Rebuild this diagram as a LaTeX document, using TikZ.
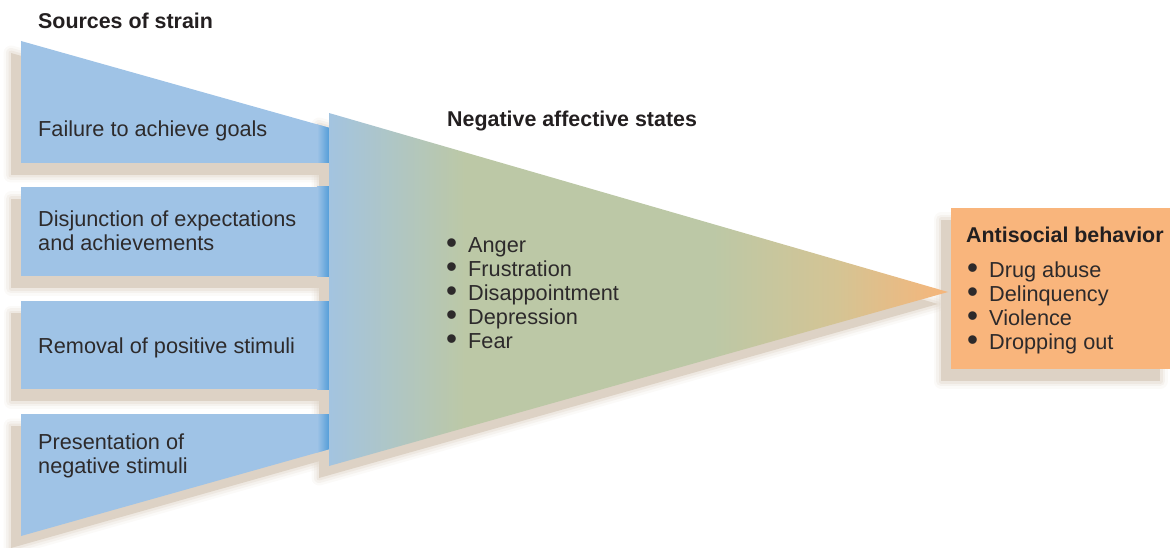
\documentclass[tikz,border=0pt]{standalone}
\usepackage{fontspec}
\setmainfont{Liberation Sans}
\definecolor{boxblue}{RGB}{159,195,230}
\definecolor{stripblue}{RGB}{78,155,216}
\definecolor{shadowc}{RGB}{221,210,197}
\definecolor{triblue}{RGB}{163,196,224}
\definecolor{trigreen}{RGB}{188,200,166}
\definecolor{tritan}{RGB}{212,196,148}
\definecolor{triorange}{RGB}{246,181,122}
\definecolor{boxorange}{RGB}{249,181,124}
\definecolor{txt}{RGB}{35,31,32}
\definecolor{txtlight}{RGB}{45,42,43}
\pgfdeclarehorizontalshading{trishade}{100bp}{color(0bp)=(triblue); color(25bp)=(triblue); color(36bp)=(trigreen); color(56bp)=(trigreen); color(66bp)=(tritan); color(75bp)=(triorange); color(100bp)=(triorange)}
\newcommand\softshadow[1]{%
  \begin{scope}[shift={(-10,12)}]
    \draw[shadowc, opacity=.12, line width=15pt, line join=round] #1 -- cycle;
    \draw[shadowc, opacity=.2, line width=10pt, line join=round] #1 -- cycle;
    \draw[shadowc, opacity=.3, line width=5pt, line join=round] #1 -- cycle;
    \fill[shadowc] #1 -- cycle;
  \end{scope}}
\newcommand\bul{\makebox[22pt][l]{\raisebox{-1pt}{\scalebox{1.45}{•}}}}
\tikzset{
  lbl/.style={font=\fontsize{21.7}{24}\selectfont, text=txtlight, inner sep=0pt, align=left, anchor=base west},
  ttl/.style={lbl, text=txt, font=\fontsize{21.4}{24}\selectfont\bfseries},
  bluebox/.style={fill=boxblue},
}
\begin{document}
\begin{tikzpicture}[x=1pt, y=-1pt]
\useasboundingbox (0,0) rectangle (1170,548);
% shadows
\softshadow{(21,41) -- (330,128) -- (330,163) -- (21,163)}
\softshadow{(21,187) -- (330,187) -- (330,276) -- (21,276)}
\softshadow{(21,301) -- (330,301) -- (330,389) -- (21,389)}
\softshadow{(21,414) -- (330,414) -- (330,449) -- (21,536)}
\softshadow{(329,113) -- (948,292) -- (329,466)}
\softshadow{(951,208) -- (1170,208) -- (1170,369) -- (951,369)}
% blue boxes with darker right strip
\foreach \p in {{(21,41) -- (330,128) -- (330,163) -- (21,163)},
                {(21,187) -- (330,187) -- (330,276) -- (21,276)},
                {(21,301) -- (330,301) -- (330,389) -- (21,389)},
                {(21,414) -- (330,414) -- (330,449) -- (21,536)}}{
  \fill[bluebox] \p -- cycle;
  \begin{scope}
    \clip \p -- cycle;
    \shade[left color=boxblue, right color=stripblue] (317,30) rectangle (330,540);
  \end{scope}
}
% triangle
\shade[shading=trishade] (329,113) -- (948,292) -- (329,466) -- cycle;
% orange box
\fill[boxorange] (951,208) rectangle (1170,369);
% texts (multi-line nodes are placed by the baseline of their last line)
\node[ttl] (src) at (38,29) {Sources of strain};
\node[lbl] (s1) at (38,137) {Failure to achieve goals};
\node[lbl] (s2) at (38,251) {Disjunction of expectations\\and achievements};
\node[lbl] (s3) at (38,353) {Removal of positive stimuli};
\node[lbl] (s4) at (38,473) {Presentation of\\negative stimuli};
\node[ttl] (neg) at (447,127) {Negative affective states};
\node[lbl] (negl) at (446,348) {\bul Anger\\\bul Frustration\\\bul Disappointment\\\bul Depression\\\bul Fear};
\node[ttl] (anti) at (966,243) {Antisocial behavior};
\node[lbl] (antil) at (967,349) {\bul Drug abuse\\\bul Delinquency\\\bul Violence\\\bul Dropping out};
\end{tikzpicture}
\end{document}
